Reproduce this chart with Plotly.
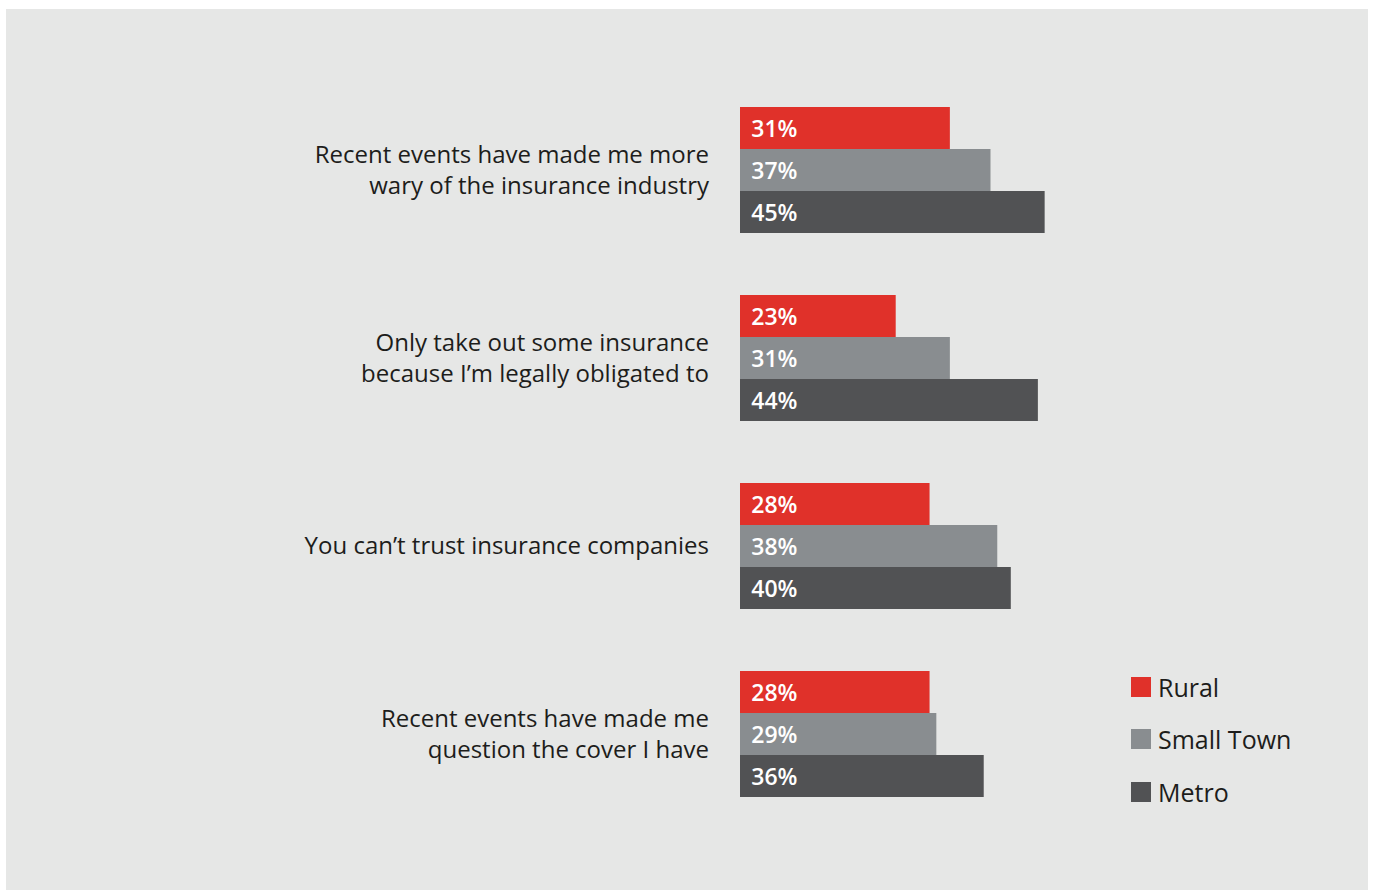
import plotly.graph_objects as go

# Survey statements (top to bottom) and share agreeing, by location type
statements = [
    "Recent events have made me more<br>wary of the insurance industry",
    "Only take out some insurance<br>because I’m legally obligated to",
    "You can’t trust insurance companies",
    "Recent events have made me<br>question the cover I have",
]
series_names = ["Rural", "Small Town", "Metro"]
rural = [31, 23, 28, 28]
small_town = [37, 31, 38, 29]
metro = [45, 44, 40, 36]
series_values = [rural, small_town, metro]
series_colors = ["#e0312a", "#898d90", "#515254"]

W, H = 1373, 890
ML, MR, MT, MB = 740, 273, 76, 62
PW, PH = W - ML - MR, H - MT - MB
FONT = "Open Sans"
TEXT_COLOR = "#1d1d1b"


def px_x(px):
    return (px - ML) / PW


def px_y(py):
    return 1 - (py - MT) / PH


fig = go.Figure()
for name, vals, col in zip(series_names, series_values, series_colors):
    fig.add_trace(go.Bar(
        y=statements,
        x=vals,
        name=name,
        orientation="h",
        marker=dict(color=col, line=dict(width=0)),
        text=[f"\u00a0\u200a{v}%" for v in vals],
        textposition="inside",
        insidetextanchor="start",
        textfont=dict(family=FONT, size=23, color="white", weight=600),
        constraintext="none",
        hoverinfo="skip",
        showlegend=False,
    ))

shapes = [
    # light grey panel behind everything
    dict(type="rect", xref="paper", yref="paper",
         x0=px_x(6), x1=px_x(1368), y0=px_y(890), y1=px_y(9),
         fillcolor="#e6e7e6", line=dict(width=0), layer="below"),
]
annotations = []
legend_y = [687, 739, 792]
for name, col, cy in zip(series_names, series_colors, legend_y):
    shapes.append(dict(type="rect", xref="paper", yref="paper",
                       x0=px_x(1131), x1=px_x(1151),
                       y0=px_y(cy + 10), y1=px_y(cy - 10),
                       fillcolor=col, line=dict(width=0)))
    annotations.append(dict(xref="paper", yref="paper",
                            x=px_x(1156), y=px_y(cy),
                            xanchor="left", yanchor="middle",
                            text=name, showarrow=False,
                            font=dict(family=FONT, size=25, color=TEXT_COLOR)))

fig.update_layout(
    width=W, height=H,
    margin=dict(l=ML, r=MR, t=MT, b=MB, autoexpand=False),
    paper_bgcolor="white",
    plot_bgcolor="rgba(0,0,0,0)",
    barmode="group",
    bargap=0.33,
    bargroupgap=0,
    showlegend=False,
    shapes=shapes,
    annotations=annotations,
    xaxis=dict(range=[0, PW / 6.77], visible=False, fixedrange=True),
    yaxis=dict(
        autorange="reversed",
        showgrid=False, zeroline=False, showline=False,
        ticks="", ticklabelstandoff=30,
        tickfont=dict(family=FONT, size=24, color=TEXT_COLOR),
        fixedrange=True,
    ),
    uniformtext=dict(mode=False),
)

fig.write_html("out.html")
